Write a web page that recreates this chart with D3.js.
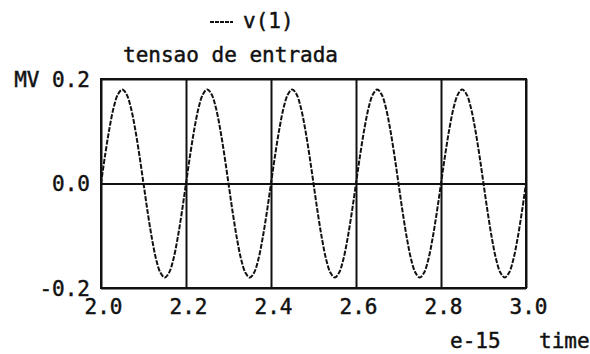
<!DOCTYPE html>
<html>
<head>
<meta charset="utf-8">
<script src="https://cdn.jsdelivr.net/npm/d3@7/dist/d3.min.js"></script>
<style>
  html, body { margin: 0; padding: 0; background: #fff; }
  svg { display: block; }
  text { font-family: "DejaVu Sans Mono", "Liberation Mono", monospace; fill: #111; stroke: #111; stroke-width: 0.45; }
</style>
</head>
<body>
<svg id="chart" width="590" height="354"></svg>
<script>
// Input voltage v(1), sampled every 0.01 (time in units of 1e-15)
const timeStart = 2.0;
const timeStep = 0.01;
const voltage = [
  0.000, 0.056, 0.106, 0.146, 0.171, 0.180, 0.171, 0.146, 0.106, 0.056,
  0.000, -0.056, -0.106, -0.146, -0.171, -0.180, -0.171, -0.146, -0.106, -0.056,
  0.000, 0.056, 0.106, 0.146, 0.171, 0.180, 0.171, 0.146, 0.106, 0.056,
  0.000, -0.056, -0.106, -0.146, -0.171, -0.180, -0.171, -0.146, -0.106, -0.056,
  0.000, 0.056, 0.106, 0.146, 0.171, 0.180, 0.171, 0.146, 0.106, 0.056,
  0.000, -0.056, -0.106, -0.146, -0.171, -0.180, -0.171, -0.146, -0.106, -0.056,
  0.000, 0.056, 0.106, 0.146, 0.171, 0.180, 0.171, 0.146, 0.106, 0.056,
  0.000, -0.056, -0.106, -0.146, -0.171, -0.180, -0.171, -0.146, -0.106, -0.056,
  0.000, 0.056, 0.106, 0.146, 0.171, 0.180, 0.171, 0.146, 0.106, 0.056,
  0.000, -0.056, -0.106, -0.146, -0.171, -0.180, -0.171, -0.146, -0.106, -0.056,
  0.000
];
const xTicks = [2.0, 2.2, 2.4, 2.6, 2.8, 3.0];
const xTickLabels = ["2.0", "2.2", "2.4", "2.6", "2.8", "3.0"];
const yTicks = [-0.2, 0.0, 0.2];
const yTickLabels = ["-0.2", "0.0", "MV 0.2"];
const seriesName = "v(1)";
const titleText = "tensao de entrada";
const xUnitText = "e-15";
const xAxisText = "time";

const svg = d3.select("#chart");
const plot = { left: 101, right: 526, top: 79, bottom: 288 };

const x = d3.scaleLinear().domain([2.0, 3.0]).range([plot.left, plot.right]);
const y = d3.scaleLinear().domain([-0.2, 0.2]).range([plot.bottom, plot.top]);

const ink = "#111";

// vertical grid lines at each x tick
const xGrid = svg.append("g")
  .attr("transform", `translate(0,${plot.bottom})`)
  .call(d3.axisBottom(x).tickValues(xTicks).tickSize(-(plot.bottom - plot.top)).tickFormat(""));
xGrid.select(".domain").remove();
xGrid.selectAll("line").attr("stroke", ink).attr("stroke-width", 2);

// horizontal grid line at 0
const yGrid = svg.append("g")
  .attr("transform", `translate(${plot.left},0)`)
  .call(d3.axisLeft(y).tickValues(yTicks).tickSize(-(plot.right - plot.left)).tickFormat(""));
yGrid.select(".domain").remove();
yGrid.selectAll("line").attr("stroke", ink).attr("stroke-width", 2);

// frame
svg.append("rect")
  .attr("x", plot.left).attr("y", plot.top)
  .attr("width", plot.right - plot.left).attr("height", plot.bottom - plot.top)
  .attr("fill", "none").attr("stroke", ink).attr("stroke-width", 2);

// x tick labels
const xAxis = svg.append("g")
  .attr("transform", `translate(0,${plot.bottom})`)
  .call(d3.axisBottom(x).tickValues(xTicks).tickSize(0).tickPadding(11)
    .tickFormat((d, i) => xTickLabels[i]));
xAxis.select(".domain").remove();
xAxis.selectAll("text")
  .attr("font-family", "DejaVu Sans Mono, monospace")
  .attr("font-size", 21).attr("fill", ink)
  .attr("dx", "2");

// y tick labels
const yAxis = svg.append("g")
  .attr("transform", `translate(${plot.left},0)`)
  .call(d3.axisLeft(y).tickValues(yTicks).tickSize(0).tickPadding(11)
    .tickFormat((d, i) => yTickLabels[i]));
yAxis.select(".domain").remove();
yAxis.selectAll("text")
  .attr("font-family", "DejaVu Sans Mono, monospace")
  .attr("font-size", 21).attr("fill", ink)
  .attr("dy", "0.35em");

// voltage trace
const line = d3.line()
  .x((d, i) => x(timeStart + i * timeStep))
  .y(d => y(d))
  .curve(d3.curveCatmullRom);
svg.append("path")
  .datum(voltage)
  .attr("d", line)
  .attr("fill", "none")
  .attr("stroke", ink)
  .attr("stroke-width", 2)
  .attr("stroke-dasharray", "5,1.5");

// legend
svg.append("line")
  .attr("x1", 210).attr("x2", 233).attr("y1", 22).attr("y2", 22)
  .attr("stroke", ink).attr("stroke-width", 2).attr("stroke-dasharray", "4,1");
svg.append("text")
  .attr("x", 243).attr("y", 28)
  .attr("font-size", 21)
  .text(seriesName);

// title
svg.append("text")
  .attr("x", 123).attr("y", 62)
  .attr("font-size", 21)
  .attr("textLength", 215).attr("lengthAdjust", "spacingAndGlyphs")
  .text(titleText);

// x axis unit and name
svg.append("text")
  .attr("x", 450).attr("y", 348)
  .attr("font-size", 21)
  .text(xUnitText);
svg.append("text")
  .attr("x", 539).attr("y", 348)
  .attr("font-size", 21)
  .text(xAxisText);
</script>
</body>
</html>
